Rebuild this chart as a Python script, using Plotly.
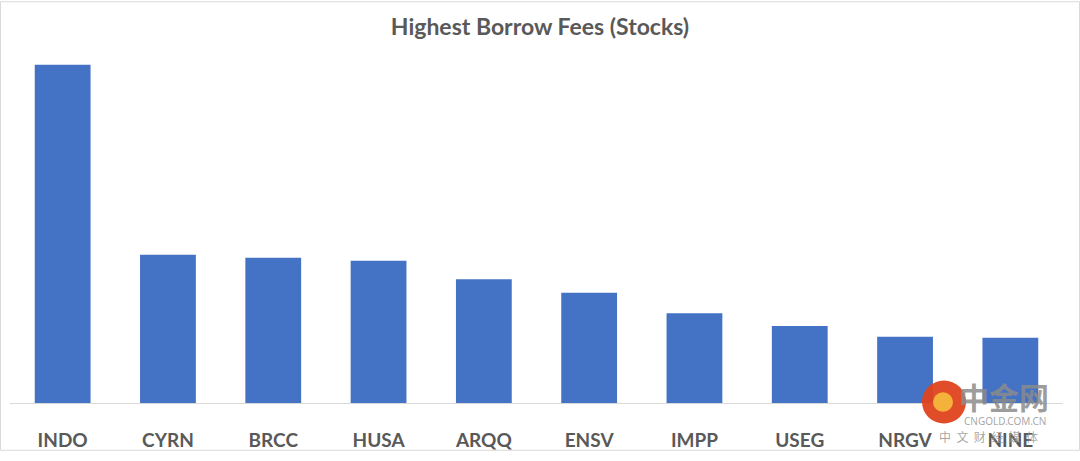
import plotly.graph_objects as go

tickers = ["INDO", "CYRN", "BRCC", "HUSA", "ARQQ", "ENSV", "IMPP", "USEG", "NRGV", "NINE"]
borrow_fee = [347, 152, 149, 146, 127, 113, 92, 79, 68, 67]
title_text = "Highest Borrow Fees (Stocks)"

W, H = 1080, 461
ml, mr, mt, mb = 10, 17, 50, 49

fig = go.Figure(go.Bar(
    x=tickers, y=borrow_fee,
    marker=dict(color="#4472C4", line=dict(width=0)),
    width=0.53,
    hoverinfo="skip",
))

plot_h = H - mt - mb
pw = W - ml - mr
ymax = 347 * plot_h / (412 - 65)


def px(x):
    return (x - ml) / pw


def py(y):
    return (H - mb - y) / plot_h


fig.update_layout(
    width=W, height=H,
    margin=dict(l=ml, r=mr, t=mt, b=mb),
    paper_bgcolor="white", plot_bgcolor="white",
    showlegend=False,
    title=dict(text="<b>" + title_text + "</b>", x=0.5, xanchor="center", y=1 - 27 / H, yanchor="middle",
               font=dict(family="Lato, Open Sans, sans-serif", size=23, color="#595959")),
    xaxis=dict(showline=True, linecolor="#D9D9D9", linewidth=1, showgrid=False, ticks="",
               ticklabelstandoff=20,
               tickfont=dict(family="Lato, Open Sans, sans-serif", size=19, color="#595959", weight="bold")),
    yaxis=dict(visible=False, range=[0, ymax], showgrid=False, zeroline=False),
)

# outer border of the chart area
fig.add_shape(type="rect", xref="paper", yref="paper",
              x0=px(0.5), x1=px(W - 0.5), y0=py(H - 0.5), y1=py(0.5),
              line=dict(color="#D9D9D9", width=1), layer="below")

# watermark
fig.add_shape(type="circle", xref="paper", yref="paper",
              x0=px(922), x1=px(966), y0=py(433), y1=py(389),
              fillcolor="#E0431D", line=dict(width=0), opacity=0.95)
fig.add_shape(type="circle", xref="paper", yref="paper",
              x0=px(933), x1=px(953), y0=py(421), y1=py(401),
              fillcolor="#F6B73C", line=dict(width=0), opacity=0.95)
fig.add_annotation(xref="paper", yref="paper", x=px(1004), y=py(405),
                   xanchor="center", yanchor="middle",
                   text="<b>中金网</b>", showarrow=False,
                   font=dict(family="Noto Sans CJK SC", size=30, color="rgba(140,140,140,0.85)"))
fig.add_annotation(xref="paper", yref="paper", x=px(1005), y=py(430),
                   xanchor="center", yanchor="middle",
                   text="CNGOLD.COM.CN", showarrow=False,
                   font=dict(family="Noto Sans", size=10, color="rgba(150,150,150,0.85)"))
fig.add_annotation(xref="paper", yref="paper", x=px(988), y=py(446),
                   xanchor="center", yanchor="middle",
                   text="中  文  财  经  媒  体", showarrow=False,
                   font=dict(family="Noto Sans CJK SC", size=12, color="rgba(150,150,150,0.85)"))

fig.write_html("out.html", config={"displayModeBar": False},
               post_script="document.body.style.margin='0';")
